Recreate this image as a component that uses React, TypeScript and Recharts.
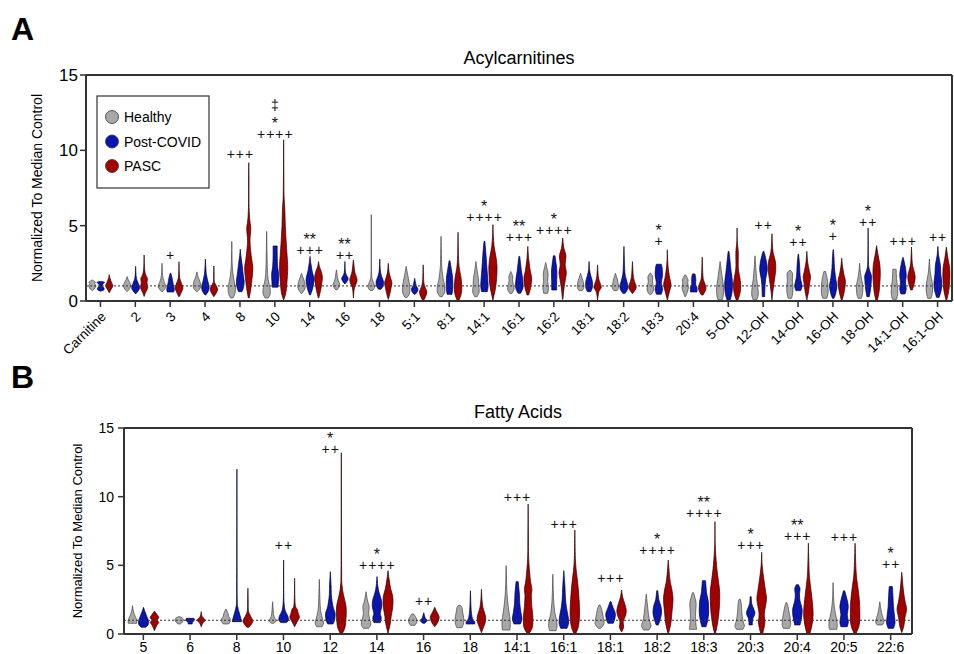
import React from "react"
import { ComposedChart, Bar, Scatter, XAxis, YAxis, ReferenceLine } from "recharts"

const FONT = '"Liberation Sans", Arial, Helvetica, sans-serif'
const HEALTHY = "#a8a8a8"
const POST = "#0a16b0"
const PASC = "#a30000"

// each violin: [value, relative half width] from its min to its max
const acylCats = [
  "Carnitine", "2", "3", "4", "8", "10", "14", "16", "18", "5:1", "8:1", "14:1", "16:1",
  "16:2", "18:1", "18:2", "18:3", "20:4", "5-OH", "12-OH", "14-OH", "16-OH", "18-OH",
  "14:1-OH", "16:1-OH",
]

const acylHealthy = [
  [[0.7, 0], [0.8, 0.5], [1.0, 0.9], [1.15, 0.6], [1.25, 0.8], [1.4, 0]],
  [[0.62, 0], [0.8, 0.6], [1.0, 0.9], [1.2, 0.7], [1.4, 0.3], [1.62, 0]],
  [[0.6, 0], [0.85, 0.8], [1.0, 0.9], [1.3, 0.5], [1.7, 0.15], [2.5, 0]],
  [[0.62, 0.1], [0.85, 0.8], [1.1, 0.9], [1.4, 0.6], [1.6, 0.3], [1.93, 0]],
  [[0.2, 0.3], [0.5, 0.8], [0.9, 0.9], [1.3, 0.6], [1.8, 0.3], [2.5, 0.1], [3.96, 0]],
  [[0.2, 0.4], [0.5, 0.9], [0.9, 0.8], [1.4, 0.4], [2.0, 0.2], [3.0, 0.1], [4.62, 0]],
  [[0.5, 0.1], [0.8, 0.8], [1.0, 0.9], [1.3, 0.7], [1.6, 0.3], [1.84, 0]],
  [[0.73, 0.1], [0.9, 0.6], [1.1, 0.8], [1.4, 0.4], [1.7, 0.2], [2.07, 0]],
  [[0.7, 0.3], [0.9, 0.8], [1.1, 0.7], [1.4, 0.3], [2.0, 0.05], [5.73, 0]],
  [[0.22, 0.2], [0.5, 0.8], [0.9, 0.9], [1.3, 0.7], [1.7, 0.4], [2.29, 0]],
  [[0.29, 0.3], [0.6, 0.9], [1.0, 0.9], [1.5, 0.5], [2.2, 0.2], [3.0, 0.1], [4.29, 0]],
  [[0.29, 0.3], [0.6, 0.8], [1.0, 0.7], [1.5, 0.6], [2.0, 0.3], [2.62, 0]],
  [[0.51, 0.3], [0.8, 0.8], [1.1, 0.6], [1.4, 0.4], [1.6, 0.5], [1.96, 0]],
  [[0.51, 0.5], [0.9, 0.7], [1.3, 0.5], [1.8, 0.6], [2.2, 0.3], [2.56, 0]],
  [[0.69, 0.4], [0.9, 0.8], [1.2, 0.7], [1.5, 0.4], [1.84, 0]],
  [[0.69, 0.4], [0.9, 0.8], [1.1, 0.7], [1.4, 0.5], [1.84, 0]],
  [[0.44, 0.2], [0.7, 0.8], [1.0, 0.7], [1.3, 0.5], [1.6, 0.6], [1.84, 0.1]],
  [[0.3, 0.1], [0.6, 0.5], [0.9, 0.8], [1.2, 0.6], [1.4, 0.7], [1.73, 0.1]],
  [[0.07, 0.5], [0.4, 0.8], [0.9, 0.85], [1.4, 0.6], [2.0, 0.3], [2.62, 0]],
  [[0.07, 0.4], [0.4, 0.8], [0.9, 0.7], [1.5, 0.4], [2.2, 0.2], [3.0, 0]],
  [[0.18, 0.4], [0.5, 0.7], [1.0, 0.75], [1.4, 0.6], [1.8, 0.7], [2.02, 0.2]],
  [[0.18, 0.5], [0.5, 0.8], [1.0, 0.8], [1.5, 0.6], [1.96, 0.2]],
  [[0.18, 0.4], [0.5, 0.7], [1.0, 0.8], [1.4, 0.5], [1.9, 0.2], [2.51, 0]],
  [[0.11, 0.5], [0.5, 0.8], [1.0, 0.7], [1.5, 0.5], [2.11, 0.4]],
  [[0.18, 0.4], [0.5, 0.7], [1.0, 0.8], [1.5, 0.5], [2.0, 0.2], [2.78, 0]],
]

const acylPost = [
  [[0.65, 0], [0.75, 0.8], [0.9, 0.7], [1.0, 0.3], [1.15, 0.6], [1.25, 0.9], [1.3, 0]],
  [[0.47, 0], [0.7, 0.7], [0.9, 0.95], [1.2, 0.6], [1.5, 0.2], [1.9, 0.05], [2.3, 0]],
  [[0.6, 0.8], [0.8, 0.9], [1.2, 0.6], [1.5, 0.4], [1.84, 0.1]],
  [[0.4, 0.1], [0.7, 0.8], [1.0, 0.9], [1.3, 0.6], [1.7, 0.3], [2.0, 0.15], [2.78, 0]],
  [[0.62, 0.4], [0.9, 0.8], [1.3, 0.95], [1.8, 0.7], [2.5, 0.4], [3.0, 0.15], [3.44, 0]],
  [[0.92, 0.7], [1.3, 0.8], [1.8, 0.85], [2.3, 0.6], [3.0, 0.5], [3.65, 0.5]],
  [[0.4, 0.1], [0.8, 0.6], [1.2, 0.9], [1.5, 0.95], [2.0, 0.5], [2.5, 0.2], [2.96, 0]],
  [[1.13, 0], [1.3, 0.5], [1.5, 0.8], [1.7, 0.4], [2.0, 0.1], [2.62, 0]],
  [[0.78, 0.3], [1.0, 0.8], [1.3, 0.9], [1.6, 0.5], [2.0, 0.15], [2.78, 0]],
  [[0.44, 0.1], [0.6, 0.6], [0.8, 0.8], [1.0, 0.4], [1.3, 0.15], [1.51, 0]],
  [[0.44, 0.6], [0.9, 0.8], [1.5, 0.75], [2.0, 0.5], [2.67, 0.1]],
  [[0.62, 0.7], [1.0, 0.9], [1.5, 0.8], [2.2, 0.6], [3.0, 0.4], [3.96, 0.1]],
  [[0.51, 0.3], [0.9, 0.9], [1.5, 0.8], [2.0, 0.5], [2.5, 0.3], [2.96, 0.1]],
  [[0.73, 0.6], [1.2, 0.6], [2.0, 0.65], [2.6, 0.4], [3.0, 0.2]],
  [[0.62, 0.4], [0.9, 0.8], [1.3, 0.8], [1.7, 0.4], [2.1, 0.1], [2.62, 0]],
  [[0.51, 0.3], [0.8, 0.9], [1.1, 0.9], [1.5, 0.5], [2.0, 0.2], [3.62, 0]],
  [[0.45, 0.6], [0.8, 0.9], [1.2, 0.6], [1.7, 0.9], [2.2, 0.8], [2.44, 0.6]],
  [[0.6, 0.8], [0.9, 0.8], [1.1, 0.5], [1.5, 0.5], [1.8, 0.3]],
  [[0, 0.3], [0.5, 0.8], [1.2, 0.95], [2.0, 0.6], [2.8, 0.3], [3.29, 0.1]],
  [[0.29, 0.3], [0.8, 0.35], [1.4, 0.5], [2.0, 0.9], [2.5, 0.8], [3.0, 0.4], [3.29, 0.1]],
  [[0.69, 0.6], [1.0, 0.9], [1.4, 0.6], [1.8, 0.4], [2.4, 0.3], [3.11, 0.05]],
  [[0.18, 0.2], [0.5, 0.6], [1.0, 0.9], [1.5, 0.6], [2.2, 0.3], [2.8, 0.2], [3.4, 0.05]],
  [[0.29, 0.3], [0.8, 0.6], [1.4, 0.8], [1.7, 0.8], [2.2, 0.2], [3.0, 0.05], [4.84, 0]],
  [[0.47, 0.5], [0.8, 0.8], [1.2, 0.6], [1.7, 0.8], [2.2, 0.6], [2.6, 0.3], [2.89, 0.05]],
  [[0.24, 0.3], [0.7, 0.8], [1.2, 0.95], [1.8, 0.7], [2.4, 0.6], [3.0, 0.2], [3.62, 0]],
]

const acylPasc = [
  [[0.55, 0], [0.8, 0.5], [1.0, 0.9], [1.2, 0.6], [1.5, 0.2], [1.75, 0]],
  [[0.3, 0], [0.6, 0.4], [0.9, 0.9], [1.2, 0.7], [1.5, 0.8], [1.8, 0.3], [2.3, 0.08], [3.05, 0]],
  [[0.3, 0.1], [0.6, 0.6], [0.85, 0.95], [1.1, 0.7], [1.5, 0.2], [2.0, 0.05], [2.6, 0]],
  [[0.3, 0.05], [0.6, 0.7], [0.8, 0.9], [1.0, 0.6], [1.3, 0.1], [1.8, 0.05], [2.33, 0]],
  [[0.2, 0.1], [0.8, 0.5], [1.5, 0.8], [2.2, 1.0], [3.0, 0.6], [4.0, 0.3], [4.8, 0.5], [5.5, 0.2], [6.5, 0.05], [8.0, 0.05], [9.18, 0]],
  [[0.07, 0], [0.5, 0.5], [1.2, 0.8], [2.2, 1.0], [3.0, 0.85], [4.0, 0.6], [5.0, 0.4], [6.0, 0.3], [7.0, 0.1], [8.5, 0.05], [10.7, 0]],
  [[0.2, 0.05], [0.7, 0.5], [1.2, 0.8], [1.6, 0.95], [2.0, 0.6], [2.3, 0.2], [2.62, 0]],
  [[0.2, 0], [0.8, 0.2], [1.1, 0.6], [1.4, 0.9], [1.7, 0.6], [2.0, 0.3], [2.73, 0]],
  [[0.1, 0], [0.5, 0.4], [0.9, 0.7], [1.2, 0.9], [1.5, 0.6], [1.9, 0.2], [2.5, 0]],
  [[0.02, 0.1], [0.3, 0.6], [0.6, 0.9], [0.9, 0.5], [1.3, 0.15], [2.4, 0]],
  [[0.02, 0.2], [0.5, 0.8], [1.0, 0.9], [1.6, 0.7], [2.2, 0.3], [3.0, 0.1], [4.56, 0]],
  [[0.07, 0], [0.8, 0.6], [1.5, 0.9], [2.3, 1.0], [3.0, 0.7], [3.6, 0.3], [4.3, 0.1], [5.07, 0]],
  [[0.4, 0.2], [0.9, 0.7], [1.5, 0.95], [2.0, 0.6], [2.6, 0.3], [3.0, 0.15], [3.62, 0]],
  [[0.11, 0.05], [0.8, 0.3], [1.5, 0.7], [1.9, 0.9], [2.4, 0.6], [3.0, 0.8], [3.5, 0.3], [4.18, 0]],
  [[0.07, 0], [0.6, 0.3], [0.9, 0.9], [1.2, 0.6], [1.6, 0.2], [2.4, 0]],
  [[0.51, 0.1], [0.8, 0.8], [1.0, 0.9], [1.3, 0.5], [1.7, 0.2], [2.62, 0]],
  [[0.07, 0], [0.6, 0.5], [1.1, 0.9], [1.5, 0.6], [2.0, 0.3], [2.6, 0.1], [3.4, 0]],
  [[0.4, 0.2], [0.7, 0.8], [0.9, 0.9], [1.2, 0.6], [1.6, 0.2], [2.91, 0]],
  [[0.07, 0.2], [0.5, 0.7], [1.0, 0.9], [1.5, 0.7], [2.2, 0.3], [3.2, 0.3], [4.0, 0.05], [4.84, 0]],
  [[0.07, 0], [0.8, 0.3], [1.4, 0.6], [2.0, 0.9], [2.6, 0.85], [3.2, 0.3], [3.8, 0.1], [4.47, 0]],
  [[0.07, 0], [0.6, 0.4], [1.2, 0.7], [1.6, 0.9], [2.0, 0.6], [2.6, 0.2], [3.29, 0]],
  [[0.07, 0.1], [0.6, 0.6], [1.3, 0.9], [1.8, 0.5], [2.3, 0.2], [2.84, 0]],
  [[0.07, 0.2], [0.6, 0.6], [1.2, 0.8], [1.8, 0.9], [2.4, 0.8], [3.0, 0.4], [3.67, 0]],
  [[0.73, 0.2], [1.2, 0.7], [1.6, 0.9], [2.0, 0.6], [2.5, 0.2], [3.58, 0]],
  [[0.07, 0.1], [0.7, 0.6], [1.5, 0.85], [2.2, 0.8], [2.8, 0.4], [3.58, 0]],
]

const acylPlus = ["", "", "+", "", "+++", "++++", "+++", "++", "", "", "", "++++", "+++", "++++", "", "", "+", "", "", "++", "++", "+", "++", "+++", "++"]
const acylStar = ["", "", "", "", "", "*", "**", "**", "", "", "", "*", "**", "*", "", "", "*", "", "", "", "*", "*", "*", "", ""]
const acylDagger = ["", "", "", "", "", "‡", "", "", "", "", "", "", "", "", "", "", "", "", "", "", "", "", "", "", ""]
const acylAnnY = [null, null, 3.07, null, 9.78, 11.07, 3.4, 3.07, null, null, null, 5.58, 4.22, 4.73, null, null, 4.0, null, null, 5.02, 3.91, 4.29, 5.27, 3.98, 4.22]

const fattyCats = ["5", "6", "8", "10", "12", "14", "16", "18", "14:1", "16:1", "18:1", "18:2", "18:3", "20:3", "20:4", "20:5", "22:6"]

const fattyHealthy = [
  [[0.78, 0.8], [1.0, 0.8], [1.3, 0.5], [1.6, 0.2], [2.06, 0]],
  [[0.73, 0.2], [0.9, 0.7], [1.05, 0.8], [1.2, 0.5], [1.26, 0.1]],
  [[0.73, 0.5], [0.9, 0.8], [1.1, 0.8], [1.3, 0.5], [1.5, 0.4], [1.82, 0]],
  [[0.78, 0.2], [0.95, 0.7], [1.1, 0.5], [1.4, 0.2], [2.35, 0]],
  [[0.53, 0.5], [0.8, 0.8], [1.1, 0.6], [1.6, 0.3], [2.2, 0.15], [3.98, 0]],
  [[0.41, 0.5], [0.7, 0.9], [1.1, 0.7], [1.5, 0.5], [2.0, 0.6], [2.4, 0.3], [3.08, 0]],
  [[0.63, 0.4], [0.8, 0.7], [1.0, 0.8], [1.2, 0.6], [1.46, 0.2]],
  [[0.46, 0.5], [0.8, 0.8], [1.2, 0.8], [1.6, 0.6], [1.9, 0.5], [2.09, 0.2]],
  [[0.29, 0.7], [0.7, 0.8], [1.2, 0.7], [2.0, 0.4], [2.8, 0.2], [3.5, 0.1], [4.98, 0]],
  [[0.24, 0.6], [0.6, 0.8], [1.0, 0.7], [1.5, 0.4], [2.2, 0.2], [3.0, 0.1], [4.35, 0]],
  [[0.41, 0.2], [0.7, 0.8], [1.0, 0.8], [1.4, 0.6], [1.8, 0.4], [2.11, 0.1]],
  [[0.29, 0.5], [0.6, 0.9], [1.0, 0.6], [1.5, 0.4], [2.2, 0.2], [2.89, 0]],
  [[0.34, 0.7], [0.6, 0.6], [1.0, 0.5], [1.6, 0.5], [2.2, 0.6], [2.6, 0.4], [3.01, 0.1]],
  [[0.34, 0.6], [0.6, 0.9], [1.0, 0.6], [1.6, 0.4], [2.2, 0.3], [2.53, 0.1]],
  [[0.41, 0.6], [0.7, 0.8], [1.2, 0.7], [1.6, 0.5], [2.0, 0.3], [2.28, 0.1]],
  [[0.34, 0.7], [0.7, 0.8], [1.2, 0.6], [1.8, 0.3], [2.6, 0.1], [3.74, 0]],
  [[0.66, 0.5], [0.9, 0.8], [1.2, 0.6], [1.6, 0.3], [2.35, 0]],
]

const fattyPost = [
  [[0.49, 0.4], [0.7, 0.9], [1.0, 0.9], [1.3, 0.6], [1.6, 0.3], [1.94, 0]],
  [[0.73, 0.4], [0.85, 0.4], [0.95, 0.7], [1.1, 0.8], [1.14, 0.6]],
  [[0.9, 0.9], [1.2, 0.7], [1.6, 0.4], [2.0, 0.15], [2.6, 0.05], [12.0, 0]],
  [[0.83, 0.5], [1.0, 0.9], [1.3, 0.8], [1.7, 0.3], [2.2, 0.1], [3.0, 0.03], [5.39, 0]],
  [[0.73, 0.5], [1.0, 0.8], [1.5, 0.9], [2.0, 0.5], [2.8, 0.2], [3.5, 0.15], [4.54, 0]],
  [[0.83, 0.6], [1.2, 0.8], [1.5, 0.6], [2.0, 0.9], [2.5, 0.8], [3.0, 0.4], [3.5, 0.15], [4.18, 0]],
  [[0.78, 0.2], [0.9, 0.5], [1.0, 0.7], [1.15, 0.3], [1.55, 0]],
  [[0.73, 0.8], [0.9, 0.8], [1.1, 0.4], [1.5, 0.2], [2.0, 0.1], [3.15, 0]],
  [[0.73, 0.6], [1.1, 0.9], [1.6, 0.7], [2.2, 0.5], [3.0, 0.4], [3.81, 0.2]],
  [[0.41, 0.6], [0.8, 0.9], [1.3, 0.8], [1.9, 0.5], [2.6, 0.3], [3.5, 0.2], [4.61, 0]],
  [[0.78, 0.5], [1.1, 0.8], [1.5, 0.9], [1.9, 0.5], [2.35, 0.1]],
  [[0.66, 0.2], [1.0, 0.5], [1.5, 0.8], [2.0, 0.7], [2.5, 0.3], [3.15, 0.1]],
  [[0.53, 0.4], [1.0, 0.7], [1.6, 0.9], [2.4, 0.8], [3.0, 0.5], [3.88, 0.3]],
  [[0.66, 0.3], [1.1, 0.4], [1.5, 0.8], [1.8, 0.6], [2.2, 0.2], [2.72, 0.1]],
  [[0.66, 0.5], [1.2, 0.8], [1.8, 0.9], [2.4, 0.5], [2.9, 0.4], [3.3, 0.5], [3.59, 0.2]],
  [[0.53, 0.6], [0.9, 0.8], [1.4, 0.6], [2.0, 0.8], [2.6, 0.5], [3.15, 0.1]],
  [[0.41, 0.5], [0.8, 0.8], [1.3, 0.7], [2.0, 0.5], [2.8, 0.4], [3.45, 0.3]],
]

const fattyPasc = [
  [[0.24, 0], [0.6, 0.4], [0.85, 0.8], [1.0, 0.5], [1.2, 0.8], [1.4, 0.5], [1.67, 0]],
  [[0.53, 0], [0.8, 0.3], [1.0, 0.8], [1.1, 0.6], [1.3, 0.15], [1.63, 0]],
  [[0.49, 0.2], [0.8, 0.8], [1.0, 0.9], [1.3, 0.5], [1.7, 0.1], [2.5, 0.05], [3.33, 0]],
  [[0.53, 0], [0.9, 0.5], [1.2, 0.9], [1.5, 0.7], [1.8, 0.5], [2.2, 0.1], [4.05, 0]],
  [[0.05, 0.2], [0.5, 0.7], [1.2, 0.9], [2.0, 0.9], [2.7, 0.5], [3.5, 0.15], [5.0, 0.05], [13.2, 0]],
  [[0.05, 0], [0.7, 0.4], [1.3, 0.6], [2.0, 0.9], [2.7, 0.9], [3.3, 0.5], [4.0, 0.2], [4.61, 0]],
  [[0.53, 0], [0.8, 0.5], [1.1, 0.8], [1.3, 0.8], [1.6, 0.4], [1.94, 0]],
  [[0.1, 0], [0.6, 0.5], [1.0, 0.8], [1.4, 0.7], [1.9, 0.3], [2.5, 0.1], [3.25, 0]],
  [[0.05, 0.2], [0.5, 0.8], [1.2, 0.9], [2.0, 0.7], [2.8, 0.6], [3.3, 0.7], [4.0, 0.4], [5.5, 0.1], [7.0, 0.05], [9.47, 0]],
  [[0.05, 0.2], [0.6, 0.7], [1.5, 0.9], [2.5, 0.8], [3.5, 0.6], [4.5, 0.3], [5.5, 0.1], [7.57, 0]],
  [[0.15, 0], [0.5, 0.4], [0.9, 0.3], [1.3, 0.7], [1.7, 0.9], [2.2, 0.6], [2.7, 0.2], [3.2, 0]],
  [[0.1, 0.1], [0.8, 0.5], [1.6, 0.7], [2.5, 0.9], [3.2, 0.7], [4.0, 0.3], [5.39, 0]],
  [[0.05, 0.1], [0.8, 0.5], [1.8, 0.8], [3.0, 0.9], [4.0, 0.6], [5.0, 0.3], [6.5, 0.05], [8.18, 0]],
  [[0.05, 0.2], [0.8, 0.6], [1.5, 0.5], [2.5, 0.9], [3.2, 0.7], [4.0, 0.4], [5.0, 0.1], [5.95, 0]],
  [[0.05, 0.3], [0.7, 0.7], [1.5, 0.9], [2.5, 0.7], [3.5, 0.4], [4.5, 0.15], [6.61, 0]],
  [[0.05, 0.2], [0.7, 0.8], [1.5, 0.9], [2.5, 0.8], [3.5, 0.5], [4.5, 0.2], [6.61, 0]],
  [[0.1, 0], [0.6, 0.4], [1.2, 0.6], [1.8, 0.9], [2.4, 0.6], [3.2, 0.3], [4.49, 0]],
]

const fattyPlus = ["", "", "", "++", "++", "++++", "++", "", "+++", "+++", "+++", "++++", "++++", "+++", "+++", "+++", "++"]
const fattyStar = ["", "", "", "", "*", "*", "", "", "", "", "", "*", "**", "*", "**", "", "*"]
const fattyAnnY = [null, null, null, 6.48, 13.5, 5.05, 2.4, null, 10.0, 8.01, 4.05, 6.12, 8.79, 6.48, 7.14, 7.09, 5.08]

const yTicks = [0, 5, 10, 15]
const legendItems = [
  { label: "Healthy", color: HEALTHY },
  { label: "Post-COVID", color: POST },
  { label: "PASC", color: PASC },
]

const acylRows = acylCats.map((name, i) => ({
  name, h: acylHealthy[i], p: acylPost[i], c: acylPasc[i],
  plus: acylPlus[i], star: acylStar[i], dag: acylDagger[i], annY: acylAnnY[i],
}))
const fattyRows = fattyCats.map((name, i) => ({
  name, h: fattyHealthy[i], p: fattyPost[i], c: fattyPasc[i],
  plus: fattyPlus[i], star: fattyStar[i], dag: "", annY: fattyAnnY[i],
}))

const range = (k: string) => (d: any) => [d[k][0][0], d[k][d[k].length - 1][0]]

// smooth side through points, control points kept inside each segment
function smooth(pts: number[][], cx: number, side: number) {
  let s = ""
  for (let i = 0; i < pts.length - 1; i++) {
    const p0 = pts[i - 1] || pts[i], p1 = pts[i], p2 = pts[i + 1], p3 = pts[i + 2] || p2
    const clampX = (x: number) => (side > 0 ? Math.max(cx, x) : Math.min(cx, x))
    const lo = Math.min(p1[1], p2[1]), hi = Math.max(p1[1], p2[1])
    const clampY = (y: number) => Math.min(hi, Math.max(lo, y))
    const c1 = [clampX(p1[0] + (p2[0] - p0[0]) / 6), clampY(p1[1] + (p2[1] - p0[1]) / 6)]
    const c2 = [clampX(p2[0] - (p3[0] - p1[0]) / 6), clampY(p2[1] - (p3[1] - p1[1]) / 6)]
    s += ` C${c1[0]},${c1[1]} ${c2[0]},${c2[1]} ${p2[0]},${p2[1]}`
  }
  return s
}

function violin(key: string, fill: string, stroke: string) {
  return (props: any) => {
    const { x, y, width, height, payload } = props
    const prof: number[][] = payload?.[key]
    if (!prof || !Number.isFinite(y)) return <g />
    const lo = prof[0][0], hi = prof[prof.length - 1][0]
    const top = Math.min(y, y + height), bot = Math.max(y, y + height)
    const py = (v: number) => (hi === lo ? top : bot - ((v - lo) / (hi - lo)) * (bot - top))
    const cx = x + width / 2
    const hw = width * 0.48
    const right = prof.map(([v, w]) => [cx + w * hw, py(v)])
    const left = prof.map(([v, w]) => [cx - w * hw, py(v)]).reverse()
    const d = `M${right[0][0]},${right[0][1]}` + smooth(right, cx, 1) +
      ` L${left[0][0]},${left[0][1]}` + smooth(left, cx, -1) + " Z"
    return <path d={d} fill={fill} stroke={stroke} strokeWidth={0.7} strokeLinejoin="round" />
  }
}

const Annot = (props: any) => {
  const { cx, cy, payload } = props
  if (!payload?.plus || !Number.isFinite(cy)) return <g />
  return (
    <g fontFamily={FONT} fill="#111" textAnchor="middle">
      <text x={cx + 0.5} y={cy + 5} fontSize={14} letterSpacing={1} fill="#111">{payload.plus}</text>
      {payload.star && <text x={cx} y={cy - 5} fontSize={16} fill="#111">{payload.star}</text>}
      {payload.dag && <text x={cx} y={cy - 24} fontSize={14} fill="#111">{payload.dag}</text>}
    </g>
  )
}

const RotTick = (props: any) => {
  const { x, y, payload } = props
  return (
    <g transform={`translate(${x + 3},${y + 5})`}>
      <text textAnchor="end" transform="rotate(-45)" dy="0.35em" fontSize={13.5} fontFamily={FONT} fill="#000">
        {payload.value}
      </text>
    </g>
  )
}

const axisLine = { stroke: "#333", strokeWidth: 2 }
const tickLine = { stroke: "#333", strokeWidth: 1.5 }

function Panel(p: {
  rows: any[]; height: number; margin: any; barSize: number; pad: any
  xHeight: number; xTick: any; yFont: number; yMargin: number
}) {
  return (
    <ComposedChart width={954} height={p.height} data={p.rows} margin={p.margin} barGap={0} barSize={p.barSize}>
      <XAxis dataKey="name" interval={0} padding={p.pad} height={p.xHeight} tick={p.xTick}
        axisLine={axisLine} tickLine={tickLine} tickSize={6} tickMargin={2} />
      <XAxis xAxisId="t" dataKey="name" orientation="top" height={1} tick={false} tickLine={false} axisLine={axisLine} />
      <YAxis domain={[0, 15]} ticks={yTicks} width={60} axisLine={axisLine} tickLine={tickLine}
        tickSize={6} tickMargin={p.yMargin} tick={{ fontSize: p.yFont, fill: "#000", fontFamily: FONT }} />
      <YAxis yAxisId="r" orientation="right" domain={[0, 15]} width={1} tick={false} tickLine={false} axisLine={axisLine} />
      <ReferenceLine y={1} stroke="#333" strokeWidth={1} strokeDasharray="2 2" />
      <Bar dataKey={range("h")} shape={violin("h", HEALTHY, "#444")} isAnimationActive={false} />
      <Bar dataKey={range("p")} shape={violin("p", POST, "#000030")} isAnimationActive={false} />
      <Bar dataKey={range("c")} shape={violin("c", PASC, "#2a0000")} isAnimationActive={false} />
      <Scatter dataKey="annY" shape={Annot} isAnimationActive={false} />
    </ComposedChart>
  )
}

export default function App() {
  return (
    <div style={{ position: "absolute", left: 0, top: 0, width: 954, height: 654, background: "#fff", fontFamily: FONT }}>
      <svg width={954} height={654} style={{ position: "absolute", left: 0, top: 0 }} fontFamily={FONT}>
        <text x={11} y={40} fontSize={32} fontWeight="bold">A</text>
        <text x={11} y={388} fontSize={32} fontWeight="bold">B</text>
        <text x={519} y={64} fontSize={18} textAnchor="middle">Acylcarnitines</text>
        <text x={518} y={418} fontSize={18} textAnchor="middle">Fatty Acids</text>
        <text transform="translate(37,188) rotate(-90)" textAnchor="middle" dy="0.35em" fontSize={14}>
          Normalized To Median Control
        </text>
        <text transform="translate(77,531) rotate(-90)" textAnchor="middle" dy="0.35em" fontSize={13}>
          Normalized To Median Control
        </text>
      </svg>
      <div style={{ position: "absolute", left: 0, top: 0 }}>
        <Panel rows={acylRows} height={362} margin={{ top: 74, right: 1, bottom: 21, left: 26 }} barSize={8.5}
          pad={{ left: -3, right: -3 }} xHeight={40} xTick={<RotTick />} yFont={17} yMargin={2} />
      </div>
      <div style={{ position: "absolute", left: 0, top: 360 }}>
        <Panel rows={fattyRows} height={294} margin={{ top: 67, right: 41, bottom: 0, left: 64 }} barSize={11}
          pad={{ left: -4, right: -2 }} xHeight={20} yFont={14} yMargin={4}
          xTick={{ fontSize: 14, fill: "#000", fontFamily: FONT }} />
      </div>
      <svg width={954} height={654} style={{ position: "absolute", left: 0, top: 0, pointerEvents: "none" }} fontFamily={FONT}>
        <rect x={97} y={96} width={112} height={92} fill="#fff" stroke="#333" strokeWidth={1.2} />
        {legendItems.map((it, i) => (
          <g key={it.label}>
            <circle cx={112} cy={117 + i * 24.5} r={6.5} fill={it.color} stroke="#333" strokeWidth={0.8} />
            <text x={124} y={122 + i * 24.5} fontSize={14}>{it.label}</text>
          </g>
        ))}
      </svg>
    </div>
  )
}
